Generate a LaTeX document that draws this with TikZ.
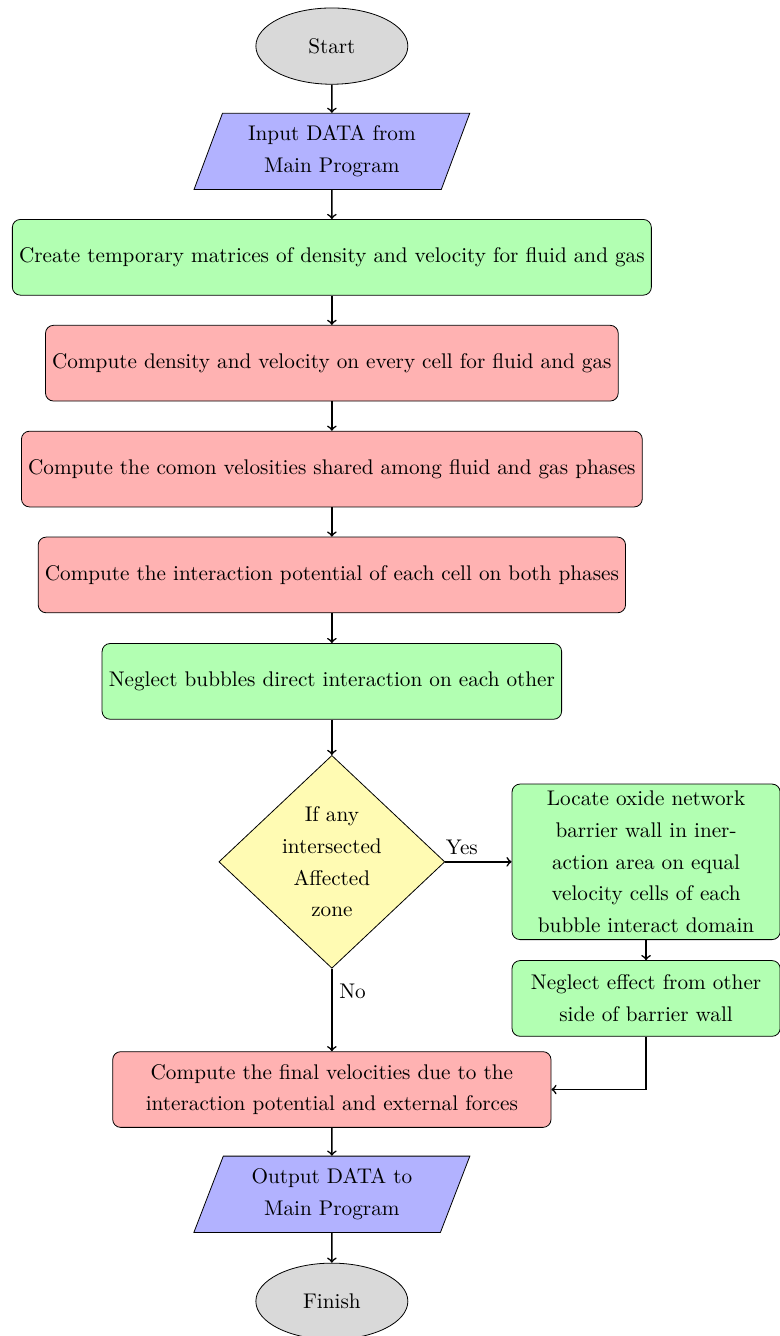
\documentclass[tikz,border=0pt]{standalone}
\usetikzlibrary{shapes.geometric}
\begin{document}
\begin{tikzpicture}[thick,
  every node/.style={font=\fontsize{10.6}{15.9}\selectfont, align=center},
  startstop/.style={ellipse, draw, thin, fill=gray!30, minimum width=2.67cm, minimum height=1.34cm},
  io/.style={trapezium, trapezium left angle=70, trapezium right angle=110, trapezium stretches=true, draw, thin, fill=blue!30, minimum width=4.85cm, minimum height=1.34cm},
  process/.style={rectangle, rounded corners, draw, thin, minimum height=1.33cm},
  decision/.style={diamond, draw, thin, fill=yellow!30, minimum width=3.97cm, minimum height=3.74cm, inner sep=0pt}]
  \useasboundingbox (-5.83,0.81) rectangle (7.87,-22.66);

  \node[startstop] (A) at (0,0) {Start};
  \node[io] (B) at (0,-1.85) {Input DATA from\\ Main Program};
  \draw[->] (A) -- (B);
  \node[process, fill=green!30] (C) at (0,-3.71) {Create temporary matrices of density and velocity for fluid and gas};
  \draw[->] (B) -- (C);
  \node[process, fill=red!30] (D) at (0,-5.57) {Compute density and velocity on every cell for fluid and gas};
  \draw[->] (C) -- (D);
  \node[process, fill=red!30] (E) at (0,-7.43) {Compute the comon velosities shared among fluid and gas phases};
  \draw[->] (D) -- (E);
  \node[process, fill=red!30] (F) at (0,-9.29) {Compute the interaction potential of each cell on both phases};
  \draw[->] (E) -- (F);
  \node[process, fill=green!30] (G) at (0,-11.16) {Neglect bubbles direct interaction on each other};
  \draw[->] (F) -- (G);
  \node[decision] (H) at (0,-14.33) {If any\\ intersected\\ Affected\\ zone};
  \draw[->] (G) -- (H);

  \node[process, fill=green!30, minimum width=4.71cm] (I) at (5.52,-14.33) {Locate oxide network\\ barrier wall in iner-\\ action area on equal\\ velocity cells of each\\ bubble interact domain};
  \draw[->] (H) -- node[above, pos=0.25] {Yes} (I);
  \node[process, fill=green!30, minimum width=4.71cm] (J) at (5.52,-16.73) {Neglect effect from other\\ side of barrier wall};
  \draw[->] (I) -- (J);

  \node[process, fill=red!30, minimum width=7.7cm] (K) at (0,-18.33) {Compute the final velocities due to the\\ interaction potential and external forces};
  \draw[->] (H) -- node[right, pos=0.28] {No} (K);
  \draw[->] (J.south) |- (K.east);
  \node[io] (L) at (0,-20.17) {Output DATA to\\ Main Program};
  \draw[->] (K) -- (L);
  \node[startstop] (M) at (0,-22.05) {Finish};
  \draw[->] (L) -- (M);

\end{tikzpicture}
\end{document}
